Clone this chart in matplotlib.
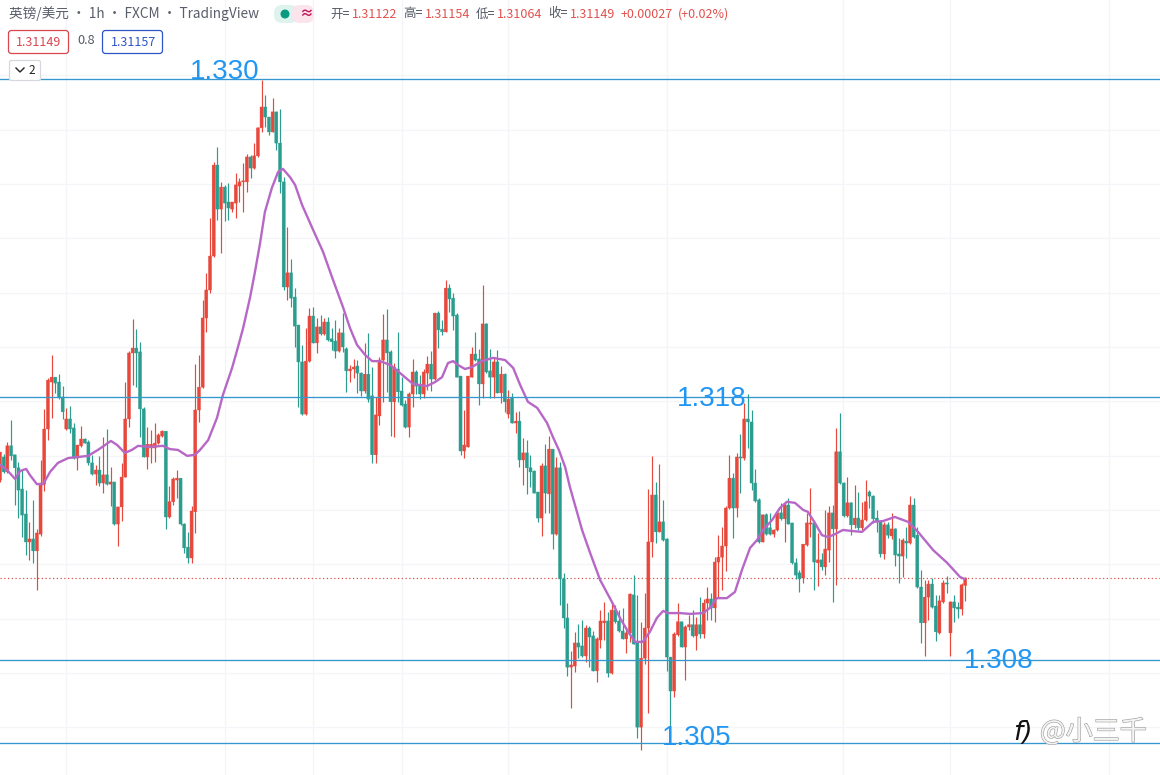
import numpy as np
import matplotlib
matplotlib.use("Agg")
import matplotlib.pyplot as plt
import matplotlib.patheffects as pe
from matplotlib.patches import FancyBboxPatch, Circle
from matplotlib.lines import Line2D
from matplotlib.transforms import Affine2D

plt.rcParams['font.family'] = ['Noto Sans CJK SC', 'DejaVu Sans']

# GBP/USD hourly candles
opens = [
    1.31510, 1.31595, 1.31540, 1.31636, 1.31603, 1.31555, 1.31477, 1.31385, 1.31282, 1.31293,
    1.31249, 1.31311, 1.31495, 1.31698, 1.31871, 1.31889, 1.31871, 1.31816, 1.31698, 1.31735,
    1.31702, 1.31591, 1.31636, 1.31661, 1.31650, 1.31573, 1.31532, 1.31547, 1.31499, 1.31529,
    1.31495, 1.31503, 1.31348, 1.31411, 1.31521, 1.31735, 1.31978, 1.31996, 1.31982, 1.31772,
    1.31595, 1.31628, 1.31628, 1.31646, 1.31672, 1.31690, 1.31374, 1.31430, 1.31510, 1.31517,
    1.31348, 1.31263, 1.31223, 1.31393, 1.31768, 1.31852, 1.32107, 1.32210, 1.32335, 1.32670,
    1.32508, 1.32589, 1.32534, 1.32508, 1.32530, 1.32593, 1.32608, 1.32608, 1.32700, 1.32659,
    1.32704, 1.32807, 1.32884, 1.32847, 1.32792, 1.32866, 1.32751, 1.32608, 1.32221, 1.32273,
    1.32184, 1.32081, 1.31945, 1.31753, 1.31948, 1.32114, 1.32015, 1.32074, 1.32048, 1.32092,
    1.32030, 1.32022, 1.31985, 1.32052, 1.31993, 1.31912, 1.31919, 1.31930, 1.31904, 1.31838,
    1.31900, 1.31820, 1.31603, 1.31746, 1.31952, 1.32026, 1.31982, 1.31798, 1.31919, 1.31838,
    1.31790, 1.31705, 1.31827, 1.31908, 1.31860, 1.31827, 1.31904, 1.31937, 1.31882, 1.32125,
    1.32066, 1.32056, 1.32217, 1.32180, 1.32118, 1.31893, 1.31617, 1.31632, 1.31889, 1.31974,
    1.31956, 1.31864, 1.32085, 1.31912, 1.31889, 1.31945, 1.31831, 1.31900, 1.31753, 1.31812,
    1.31720, 1.31727, 1.31584, 1.31610, 1.31555, 1.31543, 1.31466, 1.31370, 1.31562, 1.31459,
    1.31624, 1.31311, 1.31555, 1.31146, 1.31002, 1.30821, 1.30825, 1.30910, 1.30899, 1.30862,
    1.30965, 1.30936, 1.30807, 1.30921, 1.30984, 1.30991, 1.30799, 1.31031, 1.30991, 1.30954,
    1.30925, 1.30947, 1.31087, 1.30910, 1.30600, 1.30854, 1.30965, 1.31282, 1.31455, 1.31319,
    1.31356, 1.31293, 1.30858, 1.30733, 1.30940, 1.30988, 1.30895, 1.30969, 1.30977, 1.30936,
    1.30977, 1.30943, 1.31057, 1.31072, 1.31039, 1.31208, 1.31226, 1.31267, 1.31407, 1.31517,
    1.31407, 1.31595, 1.31591, 1.31735, 1.31724, 1.31499, 1.31437, 1.31282, 1.31382, 1.31334,
    1.31311, 1.31326, 1.31389, 1.31367, 1.31418, 1.31352, 1.31205, 1.31168, 1.31149, 1.31271,
    1.31348, 1.31352, 1.31205, 1.31216, 1.31190, 1.31252, 1.31389, 1.31330, 1.31614, 1.31499,
    1.31378, 1.31426, 1.31345, 1.31370, 1.31334, 1.31363, 1.31466, 1.31451, 1.31370, 1.31356,
    1.31238, 1.31345, 1.31304, 1.31330, 1.31238, 1.31230, 1.31285, 1.31278, 1.31418, 1.31307,
    1.31116, 1.30984, 1.31079, 1.31127, 1.31046, 1.30947, 1.31061, 1.31131, 1.30947, 1.31061,
    1.31042, 1.31035, 1.31122,
]
closes = [
    1.31613, 1.31540, 1.31636, 1.31599, 1.31555, 1.31473, 1.31381, 1.31282, 1.31293, 1.31249,
    1.31315, 1.31499, 1.31698, 1.31878, 1.31889, 1.31867, 1.31816, 1.31761, 1.31735, 1.31698,
    1.31591, 1.31639, 1.31661, 1.31646, 1.31573, 1.31532, 1.31547, 1.31499, 1.31529, 1.31495,
    1.31503, 1.31348, 1.31411, 1.31521, 1.31735, 1.31978, 1.31996, 1.31978, 1.31772, 1.31595,
    1.31642, 1.31642, 1.31646, 1.31676, 1.31690, 1.31374, 1.31430, 1.31514, 1.31517, 1.31348,
    1.31260, 1.31223, 1.31396, 1.31768, 1.31852, 1.32107, 1.32210, 1.32335, 1.32670, 1.32508,
    1.32589, 1.32530, 1.32512, 1.32534, 1.32597, 1.32608, 1.32612, 1.32700, 1.32659, 1.32704,
    1.32807, 1.32884, 1.32847, 1.32792, 1.32866, 1.32751, 1.32608, 1.32221, 1.32273, 1.32180,
    1.32077, 1.31945, 1.31753, 1.31948, 1.32114, 1.32015, 1.32074, 1.32048, 1.32092, 1.32026,
    1.32019, 1.31985, 1.32052, 1.32000, 1.31912, 1.31919, 1.31926, 1.31904, 1.31838, 1.31900,
    1.31808, 1.31603, 1.31750, 1.31952, 1.32026, 1.31978, 1.31798, 1.31926, 1.31835, 1.31786,
    1.31705, 1.31827, 1.31908, 1.31856, 1.31827, 1.31908, 1.31937, 1.31882, 1.32125, 1.32063,
    1.32056, 1.32217, 1.32177, 1.32114, 1.31889, 1.31617, 1.31639, 1.31893, 1.31974, 1.31952,
    1.31864, 1.32085, 1.31908, 1.31889, 1.31945, 1.31831, 1.31900, 1.31798, 1.31808, 1.31720,
    1.31727, 1.31584, 1.31610, 1.31555, 1.31540, 1.31462, 1.31370, 1.31562, 1.31462, 1.31624,
    1.31311, 1.31555, 1.31146, 1.31002, 1.30821, 1.30829, 1.30910, 1.30895, 1.30862, 1.30965,
    1.30932, 1.30807, 1.30925, 1.30991, 1.30991, 1.30799, 1.31031, 1.30988, 1.30954, 1.30925,
    1.30947, 1.31090, 1.30906, 1.30600, 1.30854, 1.30965, 1.31282, 1.31455, 1.31319, 1.31356,
    1.31289, 1.30858, 1.30733, 1.30943, 1.30988, 1.30895, 1.30969, 1.30977, 1.30936, 1.30977,
    1.30943, 1.31057, 1.31072, 1.31039, 1.31208, 1.31226, 1.31267, 1.31407, 1.31517, 1.31407,
    1.31595, 1.31591, 1.31735, 1.31724, 1.31499, 1.31433, 1.31282, 1.31382, 1.31311, 1.31311,
    1.31326, 1.31389, 1.31367, 1.31418, 1.31348, 1.31205, 1.31160, 1.31146, 1.31274, 1.31352,
    1.31352, 1.31208, 1.31216, 1.31190, 1.31256, 1.31389, 1.31330, 1.31614, 1.31499, 1.31378,
    1.31426, 1.31345, 1.31370, 1.31334, 1.31363, 1.31430, 1.31451, 1.31367, 1.31356, 1.31238,
    1.31345, 1.31307, 1.31330, 1.31234, 1.31230, 1.31289, 1.31278, 1.31418, 1.31300, 1.31116,
    1.30984, 1.31079, 1.31127, 1.31042, 1.30951, 1.31065, 1.31131, 1.31127, 1.31061, 1.31039,
    1.31035, 1.31124, 1.31149,
]
highs = [
    1.31592, 1.31606, 1.31650, 1.31731, 1.31592, 1.31577, 1.31547, 1.31473, 1.31356, 1.31437,
    1.31330, 1.31584, 1.31772, 1.31886, 1.31971, 1.31889, 1.31900, 1.31856, 1.31776, 1.31783,
    1.31720, 1.31639, 1.31709, 1.31665, 1.31657, 1.31603, 1.31566, 1.31599, 1.31668, 1.31698,
    1.31558, 1.31503, 1.31411, 1.31573, 1.31871, 1.31985, 1.32103, 1.32066, 1.32019, 1.31779,
    1.31705, 1.31694, 1.31720, 1.31683, 1.31694, 1.31690, 1.31488, 1.31521, 1.31547, 1.31517,
    1.31352, 1.31319, 1.31415, 1.31937, 1.31971, 1.32173, 1.32273, 1.32475, 1.32682, 1.32737,
    1.32608, 1.32597, 1.32604, 1.32534, 1.32641, 1.32623, 1.32678, 1.32711, 1.32707, 1.32751,
    1.32810, 1.32983, 1.32928, 1.32847, 1.32917, 1.32866, 1.32877, 1.32626, 1.32442, 1.32324,
    1.32217, 1.32081, 1.32008, 1.32070, 1.32143, 1.32147, 1.32107, 1.32118, 1.32107, 1.32110,
    1.32070, 1.32099, 1.32070, 1.32125, 1.32000, 1.31934, 1.31956, 1.31952, 1.31908, 1.32015,
    1.32052, 1.31926, 1.31816, 1.31963, 1.32121, 1.32140, 1.31989, 1.31941, 1.32056, 1.31889,
    1.31805, 1.31835, 1.31956, 1.31915, 1.31897, 1.31919, 1.31967, 1.31985, 1.32125, 1.32132,
    1.32099, 1.32247, 1.32232, 1.32199, 1.32125, 1.31893, 1.31768, 1.31893, 1.32000, 1.32056,
    1.31993, 1.32229, 1.32088, 1.31993, 1.31960, 1.31989, 1.31930, 1.31904, 1.31842, 1.31831,
    1.31761, 1.31764, 1.31665, 1.31657, 1.31603, 1.31547, 1.31466, 1.31573, 1.31642, 1.31672,
    1.31624, 1.31595, 1.31577, 1.31168, 1.31057, 1.30880, 1.30951, 1.30980, 1.30995, 1.30977,
    1.30973, 1.30954, 1.30932, 1.31031, 1.31061, 1.31024, 1.31057, 1.31050, 1.31031, 1.31039,
    1.30965, 1.31094, 1.31160, 1.31087, 1.30988, 1.31094, 1.31477, 1.31599, 1.31503, 1.31569,
    1.31437, 1.31296, 1.30858, 1.30951, 1.31057, 1.30988, 1.30977, 1.31013, 1.31031, 1.31006,
    1.31079, 1.31072, 1.31116, 1.31094, 1.31226, 1.31307, 1.31337, 1.31415, 1.31603, 1.31536,
    1.31610, 1.31679, 1.31794, 1.31827, 1.31768, 1.31551, 1.31444, 1.31382, 1.31389, 1.31389,
    1.31330, 1.31393, 1.31426, 1.31426, 1.31444, 1.31352, 1.31223, 1.31179, 1.31274, 1.31389,
    1.31481, 1.31352, 1.31315, 1.31241, 1.31400, 1.31415, 1.31418, 1.31702, 1.31757, 1.31503,
    1.31521, 1.31430, 1.31492, 1.31466, 1.31430, 1.31510, 1.31473, 1.31455, 1.31400, 1.31359,
    1.31356, 1.31356, 1.31389, 1.31334, 1.31296, 1.31296, 1.31337, 1.31451, 1.31444, 1.31337,
    1.31179, 1.31142, 1.31142, 1.31149, 1.31087, 1.31087, 1.31142, 1.31157, 1.31065, 1.31087,
    1.31061, 1.31131, 1.31154,
]
lows = [
    1.31503, 1.31536, 1.31536, 1.31584, 1.31418, 1.31370, 1.31300, 1.31234, 1.31216, 1.31205,
    1.31105, 1.31304, 1.31470, 1.31657, 1.31739, 1.31831, 1.31808, 1.31735, 1.31694, 1.31683,
    1.31588, 1.31547, 1.31632, 1.31646, 1.31566, 1.31529, 1.31492, 1.31488, 1.31462, 1.31492,
    1.31415, 1.31345, 1.31267, 1.31359, 1.31521, 1.31705, 1.31860, 1.31852, 1.31668, 1.31595,
    1.31551, 1.31573, 1.31577, 1.31642, 1.31668, 1.31330, 1.31370, 1.31418, 1.31444, 1.31345,
    1.31241, 1.31205, 1.31205, 1.31315, 1.31724, 1.31849, 1.32056, 1.32199, 1.32331, 1.32468,
    1.32346, 1.32464, 1.32468, 1.32497, 1.32475, 1.32534, 1.32497, 1.32571, 1.32623, 1.32656,
    1.32700, 1.32792, 1.32810, 1.32781, 1.32792, 1.32726, 1.32567, 1.32210, 1.32173, 1.32147,
    1.32000, 1.31779, 1.31750, 1.31750, 1.31945, 1.32015, 1.31978, 1.32044, 1.32044, 1.32022,
    1.31989, 1.31960, 1.31982, 1.31982, 1.31835, 1.31871, 1.31886, 1.31831, 1.31820, 1.31831,
    1.31798, 1.31573, 1.31573, 1.31713, 1.31798, 1.31835, 1.31672, 1.31668, 1.31798, 1.31783,
    1.31702, 1.31668, 1.31779, 1.31827, 1.31808, 1.31812, 1.31842, 1.31838, 1.31878, 1.31996,
    1.32044, 1.32056, 1.32129, 1.32063, 1.31889, 1.31603, 1.31591, 1.31632, 1.31889, 1.31948,
    1.31786, 1.31812, 1.31904, 1.31812, 1.31812, 1.31831, 1.31794, 1.31761, 1.31739, 1.31720,
    1.31683, 1.31558, 1.31492, 1.31459, 1.31484, 1.31462, 1.31356, 1.31304, 1.31389, 1.31389,
    1.31256, 1.31307, 1.31050, 1.30965, 1.30788, 1.30670, 1.30803, 1.30854, 1.30858, 1.30840,
    1.30821, 1.30807, 1.30767, 1.30891, 1.30921, 1.30785, 1.30795, 1.30984, 1.30951, 1.30925,
    1.30873, 1.30914, 1.30906, 1.30560, 1.30516, 1.30832, 1.30652, 1.31226, 1.31278, 1.31319,
    1.31285, 1.30807, 1.30542, 1.30711, 1.30936, 1.30895, 1.30774, 1.30958, 1.30932, 1.30884,
    1.30928, 1.30928, 1.30995, 1.30995, 1.30988, 1.31079, 1.31105, 1.31175, 1.31403, 1.31296,
    1.31374, 1.31462, 1.31584, 1.31628, 1.31473, 1.31430, 1.31278, 1.31282, 1.31307, 1.31307,
    1.31300, 1.31322, 1.31363, 1.31282, 1.31348, 1.31201, 1.31146, 1.31098, 1.31131, 1.31267,
    1.31300, 1.31105, 1.31120, 1.31179, 1.31160, 1.31208, 1.31061, 1.31124, 1.31495, 1.31374,
    1.31374, 1.31307, 1.31334, 1.31326, 1.31326, 1.31359, 1.31407, 1.31352, 1.31319, 1.31227,
    1.31219, 1.31296, 1.31293, 1.31194, 1.31131, 1.31153, 1.31223, 1.31274, 1.31296, 1.31113,
    1.30910, 1.30862, 1.30995, 1.31039, 1.30917, 1.30943, 1.31057, 1.31094, 1.30862, 1.30988,
    1.31002, 1.31013, 1.31064,
]

# moving average, sampled along the candle positions
ma_pos = [
    0.0, 1.9, 4.1, 5.4, 7.1, 8.1, 10.0, 11.7, 13.6, 15.7, 18.5, 21.2, 23.9, 26.6, 30.1, 31.8, 33.9, 35.8, 37.5,
    40.7, 44.2, 46.1, 48.3, 50.8, 52.9, 54.3, 56.5, 58.9, 60.5, 63.0, 64.6, 66.0, 67.9, 69.2, 70.6, 71.9, 73.8,
    75.5, 76.8, 78.7, 80.1, 82.0, 85.0, 87.7, 90.4, 93.1, 95.0, 96.9, 99.1, 101.0, 103.1, 105.9, 108.6, 112.1,
    115.9, 118.1, 120.0, 121.6, 123.0, 124.3, 126.2, 128.1, 130.8, 133.8, 137.1, 139.3, 141.2, 143.3, 145.8,
    148.5, 150.1, 151.7, 153.4, 154.7, 158.0, 160.2, 162.9, 166.1, 168.3, 170.5, 172.4, 174.5, 176.4, 178.3,
    180.0, 181.3, 184.6, 187.3, 190.8, 192.7, 194.6, 197.3, 199.5, 201.4, 203.6, 205.5, 207.1, 209.6, 211.7,
    213.6, 215.8, 218.0, 219.3, 221.2, 223.1, 224.8, 226.7, 228.8, 231.5, 234.0, 237.0, 239.7, 242.9, 246.5,
    249.2, 253.3, 257.1, 260.6, 261.7,
]
ma_values = [
    1.31566, 1.31547, 1.31514, 1.31543, 1.31551, 1.31529, 1.31495, 1.31495, 1.31540, 1.31573, 1.31591, 1.31595,
    1.31599, 1.31621, 1.31654, 1.31639, 1.31610, 1.31621, 1.31636, 1.31632, 1.31636, 1.31624, 1.31621, 1.31599,
    1.31603, 1.31621, 1.31657, 1.31739, 1.31823, 1.31923, 1.32000, 1.32070, 1.32184, 1.32276, 1.32383, 1.32497,
    1.32586, 1.32645, 1.32656, 1.32626, 1.32597, 1.32523, 1.32431, 1.32350, 1.32247, 1.32147, 1.32070, 1.32008,
    1.31971, 1.31948, 1.31948, 1.31934, 1.31904, 1.31864, 1.31856, 1.31871, 1.31889, 1.31941, 1.31948, 1.31934,
    1.31919, 1.31926, 1.31948, 1.31960, 1.31952, 1.31923, 1.31860, 1.31798, 1.31776, 1.31720, 1.31668, 1.31621,
    1.31558, 1.31484, 1.31326, 1.31241, 1.31142, 1.31061, 1.31002, 1.30951, 1.30914, 1.30914, 1.30951, 1.31002,
    1.31028, 1.31020, 1.31020, 1.31017, 1.31020, 1.31039, 1.31075, 1.31075, 1.31098, 1.31179, 1.31260, 1.31289,
    1.31326, 1.31363, 1.31407, 1.31430, 1.31426, 1.31400, 1.31393, 1.31352, 1.31307, 1.31300, 1.31311, 1.31326,
    1.31322, 1.31319, 1.31356, 1.31359, 1.31374, 1.31356, 1.31319, 1.31252, 1.31205, 1.31153, 1.31146,
]

# horizontal levels marked on the chart
levels = [1.32987, 1.31816, 1.30849, 1.30541]
level_label_pos = [51.6, 183.8, 261.7, 179.7]

bid_text = "1.31149"
ask_text = "1.31157"
spread_text = "0.8"
change_pct_text = "(+0.02%)"
title_text = "英镑/美元 · 1h · FXCM · TradingView"
grid_prices = np.arange(1.306, 1.3301, 0.002)
grid_times = [17.9, 61.1, 85.0, 109.1, 137.9, 181.0, 228.8, 257.9, 301.0]

UP = '#e8483c'
DOWN = '#2a9d8f'
LEVEL = '#3497cf'

W, H = 1160, 775
STEP = 3.684            # candle spacing in pixels

fig = plt.figure(figsize=(W / 100, H / 100), dpi=100, facecolor='white')
ax = fig.add_axes([0, 0, 1, 1])
ax.set_xlim(0, W / STEP)
ax.set_ylim(1.33278 - H * 0.00003683, 1.33278)
ax.axis('off')

# top-left pixel coordinates for the header furniture
px = Affine2D().scale(1, -1).translate(0, H)

for p in grid_prices:
    ax.axhline(p, color='#f3f5f9', lw=0.9, zorder=0)
for t in grid_times:
    ax.axvline(t, color='#f3f5f9', lw=0.9, zorder=0)

x = np.arange(len(opens))
o = np.array(opens)
c = np.array(closes)
colors = [UP if b >= a else DOWN for a, b in zip(o, c)]

ax.vlines(x, lows, highs, colors=colors, lw=0.85, zorder=2)
bodies = ax.bar(x, np.abs(c - o), bottom=np.minimum(o, c), width=0.82, color=colors,
                edgecolor=colors, linewidth=0.3, zorder=2)
for b in bodies:
    b.set_snap(False)

ax.plot(ma_pos, ma_values, color='#b768c6', lw=1.7, zorder=3, solid_joinstyle='round')

ax.axhline(closes[-1], color='#d9534f', lw=0.9, ls=(0, (1, 2)), zorder=1)

# level labels sit at their own offsets from the lines
label_offsets = [(0, 0), (0, -9), (0, -8), (0, -2)]
for lv, pos, off in zip(levels, level_label_pos, label_offsets):
    ax.axhline(lv, color=LEVEL, lw=0.95, zorder=4)
    ax.annotate(f"{lv:.3f}", (pos, lv), xytext=off, textcoords='offset pixels',
                color='#2196f3', fontsize=20, family=['Liberation Sans'],
                va='baseline', ha='left', zorder=5)


def header(xp, yp, s, color='#555a66', size=9.0, **kw):
    fig.text(xp, yp, s, transform=px, color=color, fontsize=size, va='center', ha='left', **kw)


def box(x0, y0, w, h, edge, face='white', r=3, lw=0.9):
    fig.add_artist(FancyBboxPatch((x0, y0), w, h, boxstyle=f"round,pad=0,rounding_size={r}",
                                  transform=px, edgecolor=edge, facecolor=face, linewidth=lw))


header(9, 14, title_text, color='#5a5e6a', size=9.85)

# market status pill
box(274, 5, 24, 18, 'none', face='#dff3ee', r=8)
box(292, 5, 22, 18, 'none', face='#fce4ec', r=8)
fig.add_artist(Circle((285, 14), 3.8, transform=px, color='#089981'))
header(299, 14, "≈", color='#c2185b', size=10, fontweight='bold')

# OHLC readout
header(330, 14, "开=")
header(352, 14, f"{opens[-1]:.5f}", color='#e0524d')
header(403, 14, "高=")
header(425, 14, f"{highs[-1]:.5f}", color='#e0524d')
header(476, 14, "低=")
header(497, 14, f"{lows[-1]:.5f}", color='#e0524d')
header(548, 14, "收=")
header(570, 14, f"{closes[-1]:.5f}", color='#e0524d')
header(621, 14, f"{closes[-1] - opens[-1]:+.5f}", color='#e0524d')
header(678, 14, change_pct_text, color='#e0524d')

# bid / ask boxes
box(8.5, 30.5, 60, 23, '#d9464f')
header(16, 42, bid_text, color='#d9464f')
header(77, 41, spread_text, color='#555a66', size=9.2)
box(102.5, 30.5, 60, 23, '#2f55c9')
header(111, 42, ask_text, color='#2f55c9')

# collapsed indicator button
box(9.5, 60.5, 31, 20, '#d6d8de', r=2)
fig.add_artist(Line2D([16, 20, 24], [68, 72, 68], transform=px, color='#222222', lw=1.0))
header(28, 70, "2", color='#222222', size=8.4)

# account watermark
fig.text(1040, 732, "@小三千", transform=px, color='#f4f4f4', fontsize=19.5,
         va='center', ha='left', zorder=6,
         path_effects=[pe.withStroke(linewidth=0.9, foreground='#a0a0a0')])
fig.text(1013, 733, "f)", transform=px, color='#111111', fontsize=19, style='italic',
         va='center', ha='left', family=['DejaVu Sans'], zorder=6)

fig.savefig("out.png", dpi=100)
